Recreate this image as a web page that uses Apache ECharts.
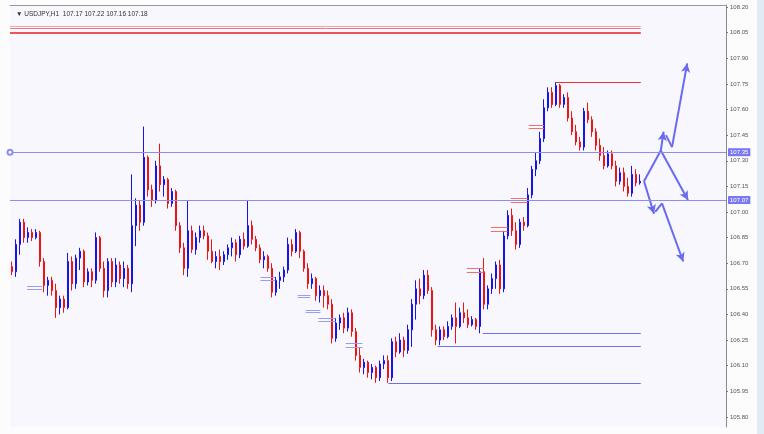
<!DOCTYPE html>
<html>
<head>
<meta charset="utf-8">
<script src="https://cdn.jsdelivr.net/npm/echarts@6/dist/echarts.min.js"></script>
<style>
  html, body { margin: 0; padding: 0; background: #fcfcfd; }
  #chart { width: 764px; height: 434px; }
</style>
</head>
<body>
<div id="chart"></div>
<script>
// USDJPY H1 candles: [open, close, low, high]
const ohlc = [
  [106.68,106.65,106.63,106.71],[106.65,106.81,106.62,106.84],[106.81,106.94,106.75,106.96],[106.94,106.85,106.82,106.96],
  [106.85,106.88,106.82,106.91],[106.88,106.85,106.83,106.90],[106.85,106.88,106.84,106.90],[106.88,106.71,106.68,106.89],
  [106.71,106.57,106.53,106.73],[106.57,106.60,106.51,106.62],[106.60,106.54,106.51,106.62],[106.54,106.44,106.38,106.58],
  [106.44,106.49,106.40,106.51],[106.49,106.44,106.41,106.51],[106.44,106.71,106.43,106.76],[106.71,106.58,106.54,106.74],
  [106.58,106.73,106.55,106.75],[106.73,106.77,106.66,106.79],[106.77,106.59,106.56,106.78],[106.59,106.65,106.57,106.67],
  [106.65,106.60,106.56,106.67],[106.60,106.85,106.58,106.88],[106.85,106.67,106.65,106.86],[106.67,106.54,106.50,106.71],
  [106.54,106.71,106.50,106.73],[106.71,106.59,106.56,106.73],[106.59,106.69,106.56,106.73],[106.69,106.61,106.58,106.71],
  [106.61,106.67,106.56,106.71],[106.67,106.58,106.55,106.69],[106.58,106.92,106.53,107.22],[106.92,107.04,106.80,107.08],
  [107.04,106.94,106.89,107.07],[106.94,107.32,106.92,107.50],[107.32,107.13,107.09,107.33],[107.13,107.07,107.03,107.16],
  [107.07,107.27,107.05,107.30],[107.27,107.16,107.12,107.40],[107.16,107.19,107.09,107.21],[107.19,107.05,107.02,107.20],
  [107.05,107.12,107.03,107.14],[107.12,106.92,106.89,107.13],[106.92,106.79,106.76,106.94],[106.79,106.67,106.63,106.82],
  [106.67,106.89,106.62,107.07],[106.89,106.78,106.76,106.92],[106.78,106.85,106.75,106.88],[106.85,106.89,106.82,106.92],
  [106.89,106.86,106.84,106.92],[106.86,106.77,106.72,106.88],[106.77,106.71,106.70,106.84],[106.71,106.74,106.67,106.77],
  [106.74,106.71,106.66,106.78],[106.71,106.75,106.69,106.77],[106.75,106.79,106.72,106.81],[106.79,106.82,106.74,106.85],
  [106.82,106.75,106.71,106.84],[106.75,106.84,106.73,106.86],[106.84,106.80,106.78,106.88],[106.80,106.92,106.79,107.07],
  [106.92,106.84,106.81,106.95],[106.84,106.79,106.77,106.86],[106.79,106.72,106.70,106.81],[106.72,106.74,106.67,106.77],
  [106.74,106.67,106.65,106.75],[106.67,106.53,106.50,106.70],[106.53,106.60,106.51,106.62],[106.60,106.62,106.55,106.65],
  [106.62,106.66,106.59,106.68],[106.66,106.81,106.64,106.85],[106.81,106.77,106.74,106.84],[106.77,106.88,106.76,106.90],
  [106.88,106.77,106.73,106.89],[106.77,106.67,106.65,106.78],[106.67,106.58,106.55,106.70],[106.58,106.61,106.55,106.64],
  [106.61,106.51,106.48,106.62],[106.51,106.54,106.47,106.57],[106.54,106.51,106.44,106.57],[106.51,106.46,106.43,106.54],
  [106.46,106.26,106.23,106.49],[106.26,106.35,106.24,106.38],[106.35,106.38,106.31,106.40],[106.38,106.32,106.29,106.41],
  [106.32,106.41,106.30,106.44],[106.41,106.30,106.27,106.43],[106.30,106.16,106.13,106.32],[106.16,106.09,106.06,106.21],
  [106.09,106.12,106.05,106.14],[106.12,106.06,106.03,106.13],[106.06,106.09,106.02,106.11],[106.09,106.03,106.00,106.10],
  [106.03,106.11,106.01,106.13],[106.11,106.13,106.08,106.16],[106.13,106.03,106.00,106.16],[106.03,106.24,106.01,106.26],
  [106.24,106.18,106.15,106.27],[106.18,106.25,106.17,106.29],[106.25,106.19,106.15,106.27],[106.19,106.31,106.17,106.34],
  [106.31,106.46,106.21,106.49],[106.46,106.55,106.37,106.60],[106.55,106.51,106.46,106.61],[106.51,106.63,106.49,106.66],
  [106.63,106.54,106.52,106.66],[106.54,106.31,106.27,106.56],[106.31,106.25,106.22,106.34],[106.25,106.31,106.22,106.33],
  [106.31,106.27,106.25,106.33],[106.27,106.33,106.26,106.36],[106.33,106.38,106.31,106.40],[106.38,106.33,106.23,106.47],
  [106.33,106.41,106.32,106.44],[106.41,106.38,106.35,106.47],[106.38,106.34,106.32,106.43],[106.34,106.37,106.33,106.39],
  [106.37,106.33,106.31,106.38],[106.33,106.65,106.29,106.67],[106.65,106.46,106.43,106.73],[106.46,106.55,106.43,106.57],
  [106.55,106.61,106.52,106.64],[106.61,106.69,106.55,106.71],[106.69,106.55,106.52,106.72],[106.55,106.86,106.53,106.89],
  [106.86,106.98,106.84,107.01],[106.98,106.89,106.86,107.02],[106.89,106.81,106.78,106.94],[106.81,106.94,106.79,106.96],
  [106.94,106.92,106.89,106.97],[106.92,107.10,106.91,107.14],[107.10,107.25,107.08,107.27],[107.25,107.30,107.21,107.35],
  [107.30,107.43,107.28,107.47],[107.43,107.61,107.41,107.66],[107.61,107.70,107.59,107.73],[107.70,107.63,107.61,107.73],
  [107.63,107.74,107.62,107.76],[107.74,107.63,107.61,107.75],[107.63,107.67,107.61,107.69],[107.67,107.55,107.53,107.70],
  [107.55,107.47,107.45,107.59],[107.47,107.41,107.39,107.51],[107.41,107.38,107.36,107.44],[107.38,107.59,107.36,107.61],
  [107.59,107.54,107.52,107.64],[107.54,107.47,107.44,107.56],[107.47,107.39,107.36,107.49],[107.39,107.33,107.30,107.43],
  [107.33,107.27,107.25,107.38],[107.27,107.34,107.26,107.36],[107.34,107.27,107.25,107.36],[107.27,107.18,107.15,107.30],
  [107.18,107.23,107.16,107.26],[107.23,107.15,107.12,107.26],[107.15,107.11,107.09,107.20],[107.11,107.22,107.09,107.27],
  [107.22,107.17,107.15,107.25],[107.17,107.18,107.16,107.22]
];

const chartTitle = '\u25BC USDJPY,H1  107.17 107.22 107.16 107.18';
const yTicks = [105.80, 105.95, 106.10, 106.25, 106.40, 106.55, 106.70, 106.85, 107.00,
                107.15, 107.30, 107.45, 107.60, 107.75, 107.90, 108.05, 108.20];
const slotCount = 179;          // candle slots incl. empty room on the right
const lastBar = ohlc.length - 0.3;

// full width levels with their price tag on the axis
const keyLevels = [107.35, 107.07];
const lastPrice = 107.18;
// red levels at the top of the window
const topLevels = [108.09, 108.077, 108.047];
// partial levels: [fromBar, price]
const highLevel = [136.5, 107.76];
const lowLevels = [[118.2, 106.29], [106.9, 106.215], [94.6, 106.00]];
// small order marks: [fromBar, toBar, upperPrice, lowerPrice]
const blueMarks = [[4.3, 8.0, 106.566, 106.549], [62.6, 66.3, 106.619, 106.602], [71.9, 75.1, 106.514, 106.502],
                   [73.9, 77.6, 106.426, 106.414], [77.1, 81.4, 106.379, 106.361], [83.9, 88.1, 106.233, 106.209]];
const redMarks = [[114.2, 118.4, 106.672, 106.649], [120.2, 124.4, 106.912, 106.888],
                  [125.2, 129.4, 107.082, 107.058], [129.7, 133.5, 107.509, 107.491]];
// projection arrows: polylines of [bar, price], arrow head on the last point
const arrowPaths = [
  [[158.5, 107.18], [162.7, 107.36], [163.4, 107.47]],
  [[164.0, 107.45], [165.5, 107.38], [169.3, 107.87]],
  [[162.7, 107.36], [169.5, 107.07]],
  [[158.5, 107.18], [161.0, 106.99]],
  [[161.3, 107.00], [163.0, 107.05], [168.3, 106.71]]
];

const categories = ohlc.map((d, i) => 'bar' + i);
for (let i = ohlc.length; i < slotCount; i++) categories.push('');

const UP = '#1414ee', DOWN = '#ee1414', LINE = '#8c8cf4', ARROW = '#6a6aee';

function seg(a, b, color, width, arrow) {
  const ls = { color: color, width: width, type: 'solid' };
  return [
    { coord: a, symbol: 'none', lineStyle: ls },
    { coord: b, symbol: arrow ? 'arrow' : 'none', symbolSize: [7, 9], lineStyle: ls }
  ];
}

const marks = [];
topLevels.forEach((p, i) => {
  const c = ['#f3a3a3', '#f07878', '#e81c1c'][i];
  marks.push(seg([0, p], [lastBar, p], c, i === 2 ? 1.5 : 1));
});
marks.push(seg([highLevel[0], highLevel[1]], [lastBar, highLevel[1]], '#ee3030', 1));
lowLevels.forEach(l => marks.push(seg([l[0], l[1]], [lastBar, l[1]], '#7070ee', 1)));
blueMarks.forEach(m => {
  marks.push(seg([m[0], m[2]], [m[1], m[2]], '#9a9cf2', 1));
  marks.push(seg([m[0], m[3]], [m[1], m[3]], '#9a9cf2', 1));
});
redMarks.forEach(m => {
  marks.push(seg([m[0], m[2]], [m[1], m[2]], '#f07070', 1));
  marks.push(seg([m[0], m[3]], [m[1], m[3]], '#f07070', 1));
});
arrowPaths.forEach(path => {
  for (let k = 1; k < path.length; k++) {
    marks.push(seg(path[k - 1], path[k], ARROW, 2, k === path.length - 1));
  }
});
keyLevels.forEach((p, i) => {
  marks.push([
    { coord: [0, p], symbol: i === 0 ? 'emptyCircle' : 'none', symbolSize: 5,
      lineStyle: { color: LINE, width: 1, type: 'solid' } },
    { coord: [slotCount, p], symbol: 'none',
      lineStyle: { color: LINE, width: 1, type: 'solid' },
      label: { show: true, position: 'end', distance: 2, formatter: p.toFixed(2),
               backgroundColor: '#7878f2', color: '#fff', fontSize: 6, padding: [1, 2],
               fontFamily: 'Liberation Sans' } }
  ]);
});
marks.push([
  { coord: [0, lastPrice], symbol: 'none', lineStyle: { opacity: 0 } },
  { coord: [slotCount, lastPrice], symbol: 'none', lineStyle: { opacity: 0 },
    label: { show: true, position: 'end', distance: 2, formatter: lastPrice.toFixed(2),
             backgroundColor: '#1c1c1c', color: '#fff', fontSize: 6, padding: [1, 2],
             fontFamily: 'Liberation Sans' } }
]);

const chart = echarts.init(document.getElementById('chart'), null, { renderer: 'canvas' });
chart.setOption({
  animation: false,
  backgroundColor: '#fcfcfd',
  title: {
    text: chartTitle, left: 11, top: 6,
    textStyle: { fontSize: 6.5, fontWeight: 'normal', color: '#333', fontFamily: 'Liberation Sans' }
  },
  graphic: [{ type: 'rect', right: 0, top: 0, shape: { width: 7, height: 434 },
              style: { fill: '#e2eaf6' }, silent: true }],
  grid: { left: 10, right: 38, top: 5, bottom: 7, show: true, backgroundColor: '#f7f7fd', borderWidth: 0 },
  xAxis: [
    { type: 'category', data: categories, boundaryGap: true, show: false },
    { type: 'value', min: 0, max: slotCount, position: 'top',
      axisLine: { show: true, onZero: false, lineStyle: { color: '#9a9a9a', width: 1 } },
      axisTick: { show: false }, axisLabel: { show: false }, splitLine: { show: false } }
  ],
  yAxis: {
    type: 'value', position: 'right', min: 105.741, max: 108.212, scale: true,
    axisLine: { show: true, onZero: false, lineStyle: { color: '#8a8a8a', width: 1 } },
    axisTick: { show: true, length: 2, customValues: yTicks, lineStyle: { color: '#777' } },
    axisLabel: { customValues: yTicks, formatter: v => v.toFixed(2), margin: 4,
                 fontSize: 6, color: '#555', fontFamily: 'Liberation Sans' },
    splitLine: { show: false }
  },
  series: [
    {
      type: 'candlestick', xAxisIndex: 0, yAxisIndex: 0, data: ohlc, barWidth: 2,
      itemStyle: { color: UP, color0: DOWN, borderColor: UP, borderColor0: DOWN, borderWidth: 1 }
    },
    {
      type: 'line', xAxisIndex: 1, yAxisIndex: 0, data: [], silent: true,
      markLine: { silent: true, animation: false, symbol: ['none', 'none'],
                  label: { show: false }, data: marks }
    }
  ]
});
</script>
</body>
</html>
